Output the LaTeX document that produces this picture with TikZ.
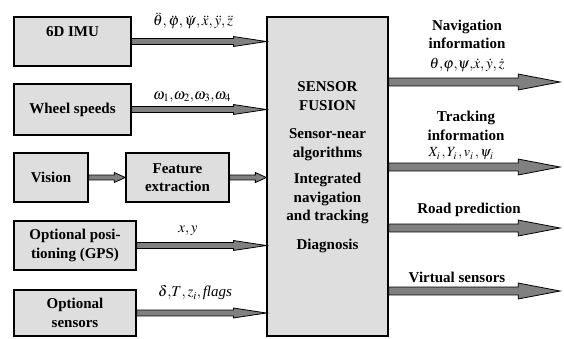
\documentclass[tikz,border=0pt]{standalone}
\usepackage{mathptmx}
\usepackage{fontspec}
\setmainfont{Liberation Serif}
\usetikzlibrary{calc}

\definecolor{boxgray}{gray}{0.87}
\definecolor{arrowgray}{gray}{0.5}

\tikzset{
	block/.style={draw, line width=1.6bp, fill=boxgray, font=\bfseries, align=center, inner sep=0pt},
	fat/.style={draw, line width=0.8bp, fill=arrowgray},
	lbl/.style={font=\bfseries, align=center, inner sep=0pt},
	sym/.style={inner sep=0pt},
}

% fat arrow: from, to, half shaft, head length, half head
\newcommand{\fatarrow}[5]{%
	\draw[fat] let \p1=(#1), \p2=(#2) in
		(\x1,\y1+#3) -- (\x2-#4,\y1+#3) -- (\x2-#4,\y1+#5) -- (\x2,\y1)
		-- (\x2-#4,\y1-#5) -- (\x2-#4,\y1-#3) -- (\x1,\y1-#3) -- cycle;}
\newcommand{\cm}{{,}\,}

\begin{document}
\begin{tikzpicture}[x=1bp, y=-1bp]
	\fontsize{15bp}{18.5bp}\selectfont
	\useasboundingbox (0,0) rectangle (564,338);
	% inputs
	\node[block, minimum width=117bp, minimum height=49bp, text depth=20bp] (imu) at (72.5,41.5) {6D IMU};
	\node[block, minimum width=117bp, minimum height=51bp] (wheel) at (72.5,109.5) {Wheel speeds};
	\node[block, minimum width=74bp, minimum height=49bp] (vision) at (51,177.5) {Vision};
	\node[block, minimum width=103bp, minimum height=49bp] (feat) at (177.5,177.5) {Feature\\extraction};
	\node[block, minimum width=122bp, minimum height=49bp] (gps) at (75,245.5) {Optional posi-\\tioning (GPS)};
	\node[block, minimum width=122bp, minimum height=46bp] (opt) at (75,313) {Optional\\sensors};
	% fusion block
	\node[block, line width=1.3bp, minimum width=121bp, minimum height=319bp] (fusion) at (327.5,176.5) {};
	\node[lbl] (fustxt) at (327.5,167) {SENSOR\\FUSION\\[10bp]Sensor-near\\algorithms\\[8bp]Integrated\\navigation\\and tracking\\[10bp]Diagnosis};
	% input arrows
	\fatarrow{imu.east}{fusion.west |- imu.east}{3}{33}{5}
	\fatarrow{wheel.east}{fusion.west |- wheel.east}{3}{33}{5}
	\fatarrow{vision.east}{feat.west}{2.5}{11}{5}
	\fatarrow{feat.east}{fusion.west |- feat.east}{2.5}{11}{5}
	\fatarrow{gps.east}{fusion.west |- gps.east}{3}{33}{5}
	\fatarrow{opt.east}{fusion.west |- opt.east}{3}{33}{5}
	\node[sym] (imusym) at (193,21) {$\ddot\theta\cm\ddot\varphi\cm\ddot\psi\cm\ddot x\cm\ddot y\cm\ddot z$};
	\node[sym] (wheelsym) at (192,97) {$\omega_1{,}\omega_2{,}\omega_3{,}\omega_4$};
	\node[sym] (gpssym) at (188,231) {$x\cm y$};
	\node[sym] (optsym) at (195,293) {$\delta{,}T\cm z_i\cm$\textit{flags}};
	% outputs
	\coordinate (navend) at (560,82);
	\coordinate (trkend) at (560,167);
	\coordinate (roadend) at (560,228);
	\coordinate (virtend) at (560,291);
	\fatarrow{fusion.east |- navend}{navend}{4}{42}{8}
	\fatarrow{fusion.east |- trkend}{trkend}{4}{42}{8}
	\fatarrow{fusion.east |- roadend}{roadend}{4}{42}{8}
	\fatarrow{fusion.east |- virtend}{virtend}{4}{42}{8}
	\node[lbl] (navlbl) at (467,34.5) {Navigation\\information};
	\node[sym] (navsym) at (467,65) {$\theta{,}\varphi{,}\psi{,}\dot x\cm\dot y\cm\dot z$};
	\node[lbl] (trklbl) at (466,126) {Tracking\\information};
	\node[sym, font=\fontsize{14bp}{16bp}\selectfont] (trksym) at (461,154) {$X_i\,{,}\,Y_i\,{,}\,v_i\,{,}\,\psi_i$};
	\node[lbl] (roadlbl) at (469,210) {Road prediction};
	\node[lbl] (virtlbl) at (457,277) {Virtual sensors};
\end{tikzpicture}
\end{document}
